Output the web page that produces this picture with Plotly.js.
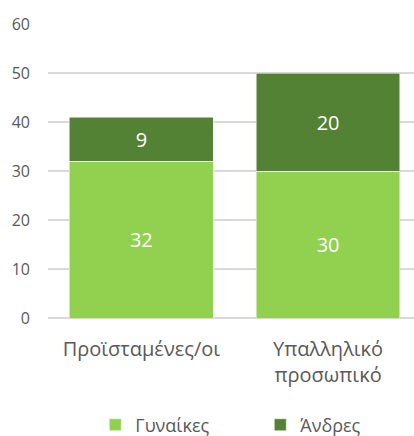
<!DOCTYPE html>
<html><head><meta charset="utf-8">
<script src="https://cdn.plot.ly/plotly-3.0.1.min.js"></script>
<style>html,body{margin:0;padding:0;background:#fff}#c{width:414px;height:436px}</style>
</head><body><div id="c"></div>
<script>
const categories = ["Προϊσταμένες/οι", "Υπαλληλικό<br>προσωπικό"];
const women = [32, 30];
const men = [9, 20];
const seriesNames = ["Γυναίκες", "Άνδρες"];
const yTicks = [0, 10, 20, 30, 40, 50, 60];

const font = "'Open Sans', sans-serif";
const traces = [
  {type:'bar', name:seriesNames[0], x:categories, y:women, marker:{color:'#92D050', line:{color:'#ffffff', width:0.5}},
   text:women.map(String), textposition:'inside', insidetextanchor:'middle', textangle:0,
   textfont:{color:'#ffffff', size:20, family:font}, width:0.77},
  {type:'bar', name:seriesNames[1], x:categories, y:men, marker:{color:'#548235', line:{color:'#ffffff', width:0.5}},
   text:men.map(String), textposition:'inside', insidetextanchor:'middle', textangle:0,
   textfont:{color:'#ffffff', size:20, family:font}, width:0.77}
];
const layout = {
  width:414, height:436, barmode:'stack',
  margin:{l:48, r:0, t:24, b:118, autoexpand:false},
  paper_bgcolor:'#fff', plot_bgcolor:'#fff',
  font:{family:font, color:'#595959', size:16},
  xaxis:{range:[-0.5, 1.46], showgrid:false, zeroline:false, showline:false, ticks:'', automargin:false,
         tickfont:{size:20, color:'#595959'}, ticklabelstandoff:17},
  yaxis:{range:[0, 60], tickvals:yTicks, showgrid:true, gridcolor:'#d9d9d9', gridwidth:1.5, automargin:false,
         zeroline:true, zerolinecolor:'#d9d9d9', zerolinewidth:1.5, showline:false, ticks:'',
         tickfont:{size:16, color:'#595959'}, ticklabelstandoff:17},
  legend:{orientation:'h', x:0.58, xanchor:'center', y:-0.364, yanchor:'middle',
          font:{size:18, color:'#595959'}, entrywidth:120, entrywidthmode:'pixels', traceorder:'normal'},
  showlegend:true
};
Plotly.newPlot('c', traces, layout, {displayModeBar:false, staticPlot:true});
</script></body></html>
